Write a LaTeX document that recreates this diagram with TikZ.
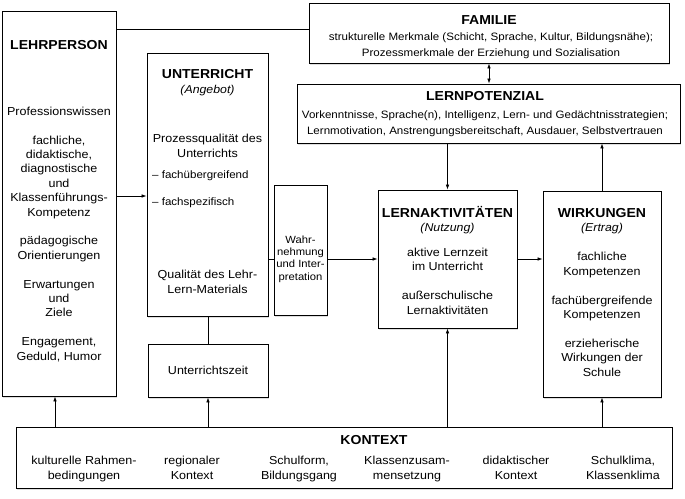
\documentclass[tikz,border=0pt]{standalone}
\usepackage{fontspec}
\setmainfont{Liberation Sans}[FakeStretch=1.08]
\usetikzlibrary{arrows.meta,shadows}

\begin{document}
\begin{tikzpicture}[x=1pt,y=-1pt]
\tikzset{box/.style={draw,line width=0.8pt,fill=white,drop shadow={shadow xshift=1.2pt,shadow yshift=-1.5pt,opacity=0.25}}}
\tikzset{head/.style={font=\bfseries\fontsize{13}{15}\selectfont,inner sep=0pt,anchor=base}}
\tikzset{sub/.style={font=\itshape\fontsize{11.4}{14}\selectfont,inner sep=0pt,anchor=base}}
\tikzset{body/.style={align=center,font=\fontsize{11.6}{14.4}\selectfont,inner sep=0pt,anchor=base}}
\tikzset{small/.style={align=center,font=\fontsize{10.7}{16}\selectfont,inner sep=0pt,anchor=base}}
\tikzset{link/.style={line width=0.7pt},>={Latex[length=5pt,width=3.6pt]}}
\useasboundingbox (0,0) rectangle (685,498);
% boxes
\node[box,minimum width=114pt,minimum height=385pt] (lehr) at (59,203.5) {};
\node[box,minimum width=360pt,minimum height=60pt] (fam) at (489,33) {};
\node[box,minimum width=383pt,minimum height=59pt] (pot) at (488.5,113.5) {};
\node[box,minimum width=121pt,minimum height=263pt] (unt) at (207.5,184.5) {};
\node[box,minimum width=120pt,minimum height=53pt,font=\fontsize{11.6}{14.4}\selectfont] (zeit) at (208,370.5) {Unterrichtszeit};
\node[box,minimum width=53pt,minimum height=130pt] (wahr) at (300.5,250) {};
\node[box,minimum width=139pt,minimum height=138pt] (akt) at (447.5,259) {};
\node[box,minimum width=118pt,minimum height=206pt] (wirk) at (602,294) {};
\node[box,minimum width=656pt,minimum height=61pt] (kon) at (344,457.5) {};
% texts (multi-line texts sit on their last baseline)
\node[head] (lehr-t) at (59,49) {LEHRPERSON};
\node[body] (lehr-b) at (59,360) {Professionswissen\\[14.4pt]
  fachliche,\\didaktische,\\diagnostische\\und\\Klassenführungs-\\Kompetenz\\[14.4pt]
  pädagogische\\Orientierungen\\[14.4pt]
  Erwartungen\\und\\Ziele\\[14.4pt]
  Engagement,\\Geduld, Humor};
\node[head] (fam-t) at (489,24) {FAMILIE};
\node[small] (fam-b) at (491,56) {strukturelle Merkmale (Schicht, Sprache, Kultur, Bildungsnähe);\\
  Prozessmerkmale der Erziehung und Sozialisation};
\node[head] (pot-t) at (485,100) {LERNPOTENZIAL};
\node[small] (pot-b) at (485,134) {Vorkenntnisse, Sprache(n), Intelligenz, Lern- und Gedächtnisstrategien;\\
  Lernmotivation, Anstrengungsbereitschaft, Ausdauer, Selbstvertrauen};
\node[head] (unt-t) at (207.5,78) {UNTERRICHT};
\node[sub] (unt-s) at (207.5,93) {(Angebot)};
\node[body] (unt-p) at (207.5,157) {Prozessqualität des\\Unterrichts};
\node[small,anchor=base west] (unt-d1) at (152,178) {– fachübergreifend};
\node[small,anchor=base west] (unt-d2) at (152,205) {– fachspezifisch};
\node[body] (unt-m) at (207.5,293) {Qualität des Lehr-\\Lern-Materials};
\node[body,font=\fontsize{10.4}{12.3}\selectfont] (wahr-b) at (300.5,280) {Wahr-\\nehmung\\und Inter-\\pretation};
\node[head] (akt-t) at (447.5,217) {LERNAKTIVITÄTEN};
\node[sub] (akt-s) at (447.5,231) {(Nutzung)};
\node[body] (akt-b) at (447.5,314) {aktive Lernzeit\\im Unterricht\\[14.4pt]außerschulische\\Lernaktivitäten};
\node[head] (wirk-t) at (602,217) {WIRKUNGEN};
\node[sub] (wirk-s) at (602,231) {(Ertrag)};
\node[body] (wirk-b) at (602,376) {fachliche\\Kompetenzen\\[14.4pt]fachübergreifende\\Kompetenzen\\[14.4pt]
  erzieherische\\Wirkungen der\\Schule};
\node[head] (kon-t) at (374,444) {KONTEXT};
\node[body] (kon-1) at (84,479) {kulturelle Rahmen-\\bedingungen};
\node[body] (kon-2) at (192,479) {regionaler\\Kontext};
\node[body] (kon-3) at (299,479) {Schulform,\\Bildungsgang};
\node[body] (kon-4) at (407,479) {Klassenzusam-\\mensetzung};
\node[body] (kon-5) at (516,479) {didaktischer\\Kontext};
\node[body] (kon-6) at (623,479) {Schulklima,\\Klassenklima};
% connectors
\draw[link] ([yshift=4pt]fam.west -| lehr.east) -- ([yshift=4pt]fam.west);
\draw[link,<->] (fam.south) -- (fam.south |- pot.north);
\draw[link,->] (pot.south -| akt.north) -- (akt.north);
\draw[link,->] (wirk.north) -- (wirk.north |- pot.south);
\draw[link,->] ([yshift=-11.5pt]unt.west -| lehr.east) -- ([yshift=-11.5pt]unt.west);
\draw[link] (unt.east |- akt.west) -- (wahr.west |- akt.west);
\draw[link,->] (wahr.east |- akt.west) -- (akt.west);
\draw[link,->] (akt.east) -- (akt.east -| wirk.west);
\draw[link] (unt.south) -- (unt.south -| zeit.north) -- (zeit.north);
\draw[link,->] ([xshift=-4pt]lehr.south |- kon.north) -- ([xshift=-4pt]lehr.south);
\draw[link,->] (zeit.south |- kon.north) -- (zeit.south);
\draw[link,->] (akt.south |- kon.north) -- (akt.south);
\draw[link,->] (wirk.south |- kon.north) -- (wirk.south);
\end{tikzpicture}
\end{document}
